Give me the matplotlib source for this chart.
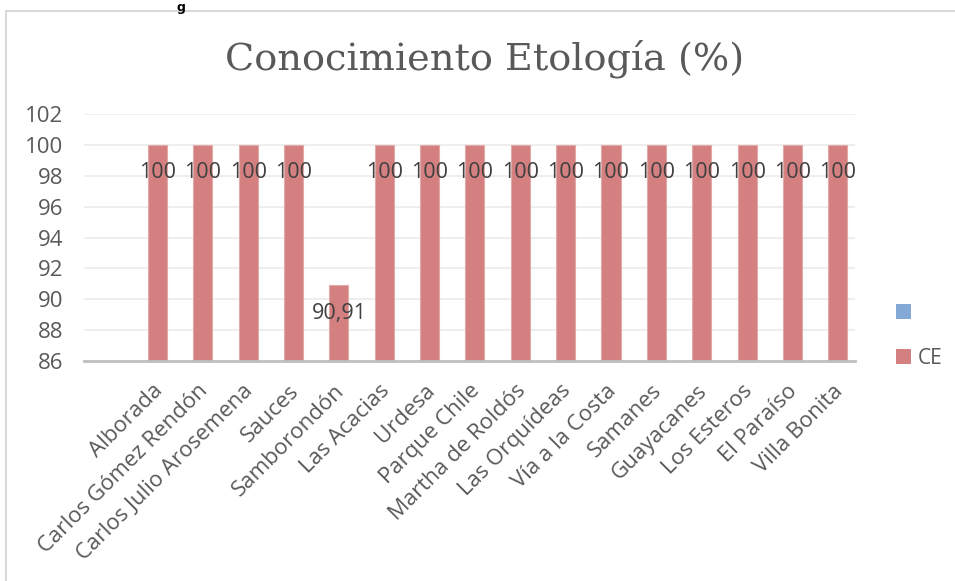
import matplotlib
matplotlib.use("Agg")
import matplotlib.pyplot as plt
from matplotlib.patches import Patch
from matplotlib.lines import Line2D
import numpy as np

categories = ["Alborada", "Carlos Gómez Rendón", "Carlos Julio Arosemena", "Sauces",
              "Samborondón", "Las Acacias", "Urdesa", "Parque Chile", "Martha de Roldós",
              "Las Orquídeas", "Vía a la Costa", "Samanes", "Guayacanes", "Los Esteros",
              "El Paraíso", "Villa Bonita"]
ce_values = [100, 100, 100, 100, 90.91, 100, 100, 100, 100, 100, 100, 100, 100, 100, 100, 100]
ce_labels = ["100", "100", "100", "100", "90,91", "100", "100", "100", "100", "100",
             "100", "100", "100", "100", "100", "100"]
yticks = [86, 88, 90, 92, 94, 96, 98, 100, 102]
title = "Conocimiento Etología (%)"

W, H = 955, 581
fig = plt.figure(figsize=(W / 100, H / 100), dpi=100)
fig.patch.set_facecolor("white")

# chart border (extends past right/bottom)
fig.add_artist(Line2D([6 / W, 6 / W], [0, 1 - 11 / H], transform=fig.transFigure,
                      color="#D9D9D9", lw=1.5))
fig.add_artist(Line2D([6 / W, 1], [1 - 11 / H, 1 - 11 / H], transform=fig.transFigure,
                      color="#D9D9D9", lw=1.5))
# caption fragment above chart
fig.text(181 / W, 1 - 1 / H, "g", fontsize=9, fontweight="bold", color="black",
         ha="center", va="top", family="DejaVu Sans")

left, right = 84 / W, 855 / W
bottom, top = 1 - 361 / H, 1 - 114 / H
ax = fig.add_axes([left, bottom, right - left, top - bottom])

x = np.arange(1, len(categories) + 1)
offset = 0.12
width = 0.42
ax.bar(x + offset, np.array(ce_values) - 86, bottom=86, width=width,
       color="#D48080", edgecolor="#E3A9A9", linewidth=0.8, zorder=3)

for xi, v, lab in zip(x, ce_values, ce_labels):
    ax.annotate(lab, (xi + offset, v), xytext=(0, -28), textcoords="offset pixels",
                ha="center", va="center", fontsize=15.5, color="#404040",
                family="Open Sans", zorder=4)

ax.set_xlim(-0.5, len(categories) + 0.5)
ax.set_ylim(86, 102)
ax.set_yticks(yticks)
ax.set_yticklabels([str(t) for t in yticks], fontsize=16, color="#595959", family="Open Sans")
ax.set_xticks(x)
ax.set_xticklabels(categories, rotation=45, ha="right", rotation_mode="anchor",
                   fontsize=16, color="#595959", family="Open Sans")
ax.tick_params(axis="both", length=0)
ax.tick_params(axis="y", pad=15)
ax.tick_params(axis="x", pad=14)

ax.grid(axis="y", color="#EBEBEB", linewidth=1.2, zorder=0)
ax.set_axisbelow(True)
for s in ["top", "right", "left"]:
    ax.spines[s].set_visible(False)
ax.spines["bottom"].set_color("#BFBFBF")
ax.spines["bottom"].set_linewidth(2)
ax.spines["bottom"].set_zorder(5)

fig.text(485 / W, 1 - 59 / H, title, fontsize=27.5, color="#595959",
         family="DejaVu Serif", ha="center", va="center")

handles = [Patch(facecolor="#84A9D7", edgecolor="none"),
           Patch(facecolor="#D48080", edgecolor="none")]
leg = fig.legend(handles, [" ", "CE"], loc="center left",
                 bbox_to_anchor=(896 / W, 1 - 336 / H), frameon=False,
                 fontsize=15, handlelength=0.7, handleheight=0.7,
                 labelspacing=1.15, handletextpad=0.35, borderpad=0,
                 borderaxespad=0)
for t in leg.get_texts():
    t.set_color("#595959")
    t.set_family("Open Sans")

fig.savefig("out.png", dpi=100, facecolor="white")
